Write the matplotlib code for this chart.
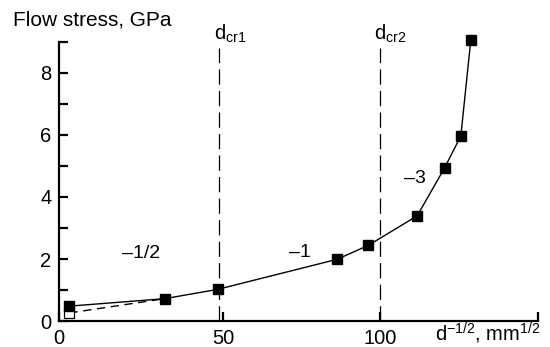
import matplotlib
matplotlib.use("Agg")
import matplotlib.pyplot as plt

plt.rcParams['font.family'] = ['Liberation Sans', 'DejaVu Sans']
plt.rcParams['mathtext.fontset'] = 'custom'
plt.rcParams['mathtext.rm'] = 'Liberation Sans'
plt.rcParams['mathtext.default'] = 'regular'
plt.rcParams['lines.scale_dashes'] = False

# flow stress vs inverse square root of grain size
d_inv = [3.4, 33.0, 49.5, 86.7, 96.4, 111.6, 120.2, 125.2, 128.3]
stress = [0.48, 0.72, 1.02, 1.99, 2.44, 3.39, 4.95, 5.97, 9.06]

# open-marker point and its dashed link
d_open = [3.4, 33.0]
stress_open = [0.26, 0.72]

# critical grain sizes
d_cr = [50.0, 100.0]
cr_names = ['d$_{cr1}$', 'd$_{cr2}$']

# slope labels
slope_text = ['\u20131/2', '\u20131', '\u20133']
slope_x = [25.8, 75.0, 110.9]
slope_y = [2.19, 2.2, 4.6]

x_ticks = [0, 51.3, 100, 149.3]
x_ticklabels = ['0', '50', '100', '']

fig = plt.figure(figsize=(5.5, 3.47), dpi=100)
ax = fig.add_axes([0.1064, 0.0749, 0.9787 - 0.1064, 0.879 - 0.0749])

ax.plot(d_open, stress_open, color='black', lw=1.0, ls=(0, (6, 4)), clip_on=False)
ax.plot(d_open[:1], stress_open[:1], 's', ms=6.5, mfc='white', mec='black',
        mew=0.9, clip_on=False)
ax.plot(d_inv, stress, color='black', lw=1.0, marker='s', ms=6.5, mfc='black',
        mec='black', clip_on=False)

for xc, name in zip(d_cr, cr_names):
    ax.plot([xc, xc], [0, 8.8], color='black', lw=0.9, ls=(0, (11, 4.5)))
    ax.text(xc + 3.3, 9.25, name, fontsize=14.5, ha='center', va='center')

for t, sx, sy in zip(slope_text, slope_x, slope_y):
    ax.text(sx, sy, t, fontsize=14, ha='center', va='center')

ax.set_xlim(0, 149.3)
ax.set_ylim(0, 9)
ax.set_xticks(x_ticks)
ax.set_xticklabels(x_ticklabels)
ax.set_yticks(range(0, 10))
ax.set_yticklabels(['0', '', '2', '', '4', '', '6', '', '8', ''])

for side in ['top', 'right']:
    ax.spines[side].set_visible(False)
for side in ['left', 'bottom']:
    ax.spines[side].set_linewidth(1.6)
ax.tick_params(axis='both', direction='in', width=1.6, length=6.5, labelsize=14.5)
ax.tick_params(axis='x', pad=6)
ax.tick_params(axis='y', pad=5)

fig.text(13 / 550, 1 - 20 / 347, 'Flow stress, GPa', fontsize=15, ha='left', va='center')
fig.text(541 / 550, 1 - 341 / 347, 'd$^{\u22121/2}$, mm$^{1/2}$', fontsize=14.5,
         ha='right', va='baseline')

fig.savefig('out.png', dpi=100)
